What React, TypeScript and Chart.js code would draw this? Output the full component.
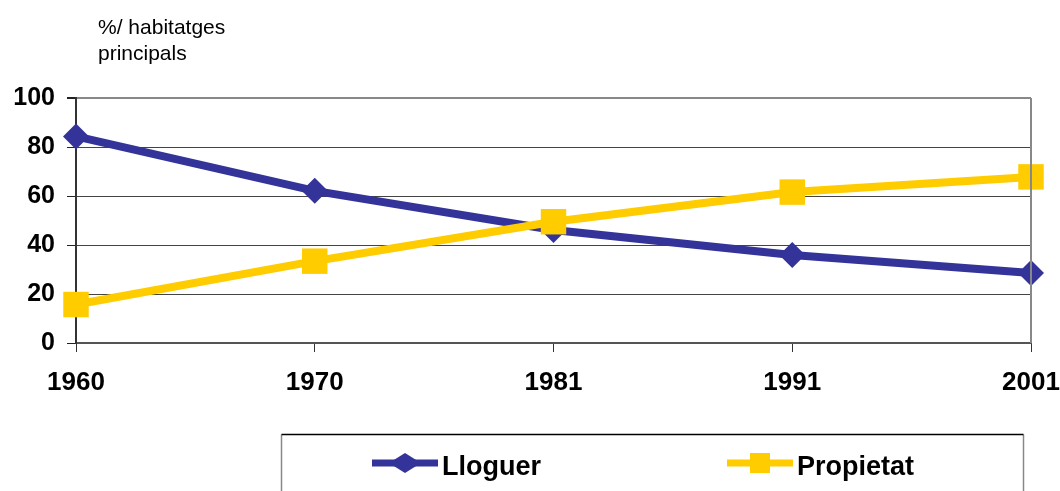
import React, { useEffect, useRef } from 'react';
import { Chart, registerables } from 'chart.js';

Chart.register(...registerables);

const years = ['1960', '1970', '1981', '1991', '2001'];
const lloguer = [84.3, 62.1, 46.1, 35.9, 28.6];
const propietat = [15.7, 33.4, 49.5, 61.6, 67.8];
const seriesNames = ['Lloguer', 'Propietat'];
const axisTitle = ['%/ habitatges', 'principals'];
const yMin = 0;
const yMax = 100;
const yStep = 20;

const FONT = "Arial, 'Liberation Sans', Helvetica, sans-serif";
const NAVY = '#333399';
const YELLOW = '#FFCC00';

const decorPlugin = {
  id: 'decor',
  afterDraw(chart: any) {
    const ctx = chart.ctx as CanvasRenderingContext2D;
    const a = chart.chartArea;
    ctx.save();
    // right border of plot area
    ctx.strokeStyle = '#888';
    ctx.lineWidth = 2;
    ctx.beginPath();
    ctx.moveTo(a.right, a.top);
    ctx.lineTo(a.right, a.bottom);
    ctx.stroke();

    // axis title
    ctx.fillStyle = '#000';
    ctx.font = `21px ${FONT}`;
    ctx.textAlign = 'left';
    ctx.textBaseline = 'alphabetic';
    ctx.fillText(axisTitle[0], 98, 34);
    ctx.fillText(axisTitle[1], 98, 60);

    // legend box
    const bx1 = 281.5, bx2 = 1023.5, by = 434.5, byEnd = 500;
    ctx.lineWidth = 1.5;
    ctx.strokeStyle = '#888';
    ctx.beginPath();
    ctx.moveTo(bx1, byEnd);
    ctx.lineTo(bx1, by);
    ctx.stroke();
    ctx.beginPath();
    ctx.moveTo(bx2, by);
    ctx.lineTo(bx2, byEnd);
    ctx.stroke();
    ctx.strokeStyle = '#000';
    ctx.beginPath();
    ctx.moveTo(bx1, by);
    ctx.lineTo(bx2, by);
    ctx.stroke();

    // legend entries
    const ds = chart.data.datasets;
    const entries = [
      { x1: 372, x2: 438, tx: 442 },
      { x1: 727, x2: 793, tx: 797 },
    ];
    const ly = 463;
    ds.forEach((d: any, i: number) => {
      const e = entries[i];
      if (!e) return;
      ctx.strokeStyle = d.borderColor;
      ctx.lineWidth = 7;
      ctx.beginPath();
      ctx.moveTo(e.x1, ly);
      ctx.lineTo(e.x2, ly);
      ctx.stroke();
      const cx = (e.x1 + e.x2) / 2;
      ctx.fillStyle = d.borderColor;
      if (d.pointStyle === 'rectRot') {
        ctx.beginPath();
        ctx.moveTo(cx - 16, ly);
        ctx.lineTo(cx, ly - 10);
        ctx.lineTo(cx + 16, ly);
        ctx.lineTo(cx, ly + 10);
        ctx.closePath();
        ctx.fill();
      } else {
        ctx.fillRect(cx - 10, ly - 10, 20, 20);
      }
      ctx.fillStyle = '#000';
      ctx.font = `bold 27px ${FONT}`;
      ctx.textAlign = 'left';
      ctx.textBaseline = 'alphabetic';
      ctx.fillText(d.label, e.tx, 475);
    });
    ctx.restore();
  },
};

export default function App() {
  const ref = useRef<HTMLCanvasElement | null>(null);
  useEffect(() => {
    if (!ref.current) return;
    const chart = new Chart(ref.current, {
      type: 'line',
      data: {
        labels: years,
        datasets: [
          {
            label: seriesNames[0],
            data: lloguer,
            borderColor: NAVY,
            backgroundColor: NAVY,
            borderWidth: 8,
            pointStyle: 'rectRot',
            pointRadius: 13,
            pointBorderWidth: 0,
            pointBackgroundColor: NAVY,
            tension: 0,
            clip: false as any,
            order: 1,
          },
          {
            label: seriesNames[1],
            data: propietat,
            borderColor: YELLOW,
            backgroundColor: YELLOW,
            borderWidth: 8,
            pointStyle: 'rect',
            pointRadius: 18,
            pointBorderWidth: 0,
            pointBackgroundColor: YELLOW,
            tension: 0,
            clip: false as any,
            order: 0,
          },
        ],
      },
      options: {
        animation: false,
        responsive: false,
        events: [],
        layout: { padding: { top: 98, right: 29, left: 0, bottom: 88 } },
        plugins: {
          legend: { display: false },
          tooltip: { enabled: false },
          title: { display: false },
        },
        scales: {
          x: {
            offset: false,
            grid: {
              drawOnChartArea: false,
              drawTicks: true,
              tickLength: 9,
              color: '#333',
            },
            border: { display: true, color: '#555', width: 2 },
            ticks: {
              color: '#000',
              padding: 15,
              maxRotation: 0,
              autoSkip: false,
              font: { family: FONT, size: 26, weight: 'bold' },
            },
            afterFit(scale: any) {
              scale.height = 60;
              scale.paddingLeft = 0;
              scale.paddingRight = 0;
            },
          },
          y: {
            min: yMin,
            max: yMax,
            ticks: {
              stepSize: yStep,
              color: '#000',
              padding: 12,
              font: { family: FONT, size: 25, weight: 'bold' },
            },
            grid: {
              drawTicks: true,
              tickLength: 9,
              color: (c: any) => (c.tick && c.tick.value === yMax ? '#888' : '#444'),
              lineWidth: (c: any) => (c.tick && c.tick.value === yMax ? 2 : 1),
              tickColor: '#222',
            },
            border: { display: true, color: '#333', width: 2 },
            afterFit(scale: any) {
              scale.width = 76;
              scale.paddingTop = 0;
              scale.paddingBottom = 0;
            },
          },
        },
      },
      plugins: [decorPlugin],
    });
    return () => chart.destroy();
  }, []);
  return (
    <div style={{ position: 'absolute', left: 0, top: 0, width: 1060, height: 491, background: '#fff' }}>
      <canvas ref={ref} width={1060} height={491} style={{ display: 'block' }} />
    </div>
  );
}
